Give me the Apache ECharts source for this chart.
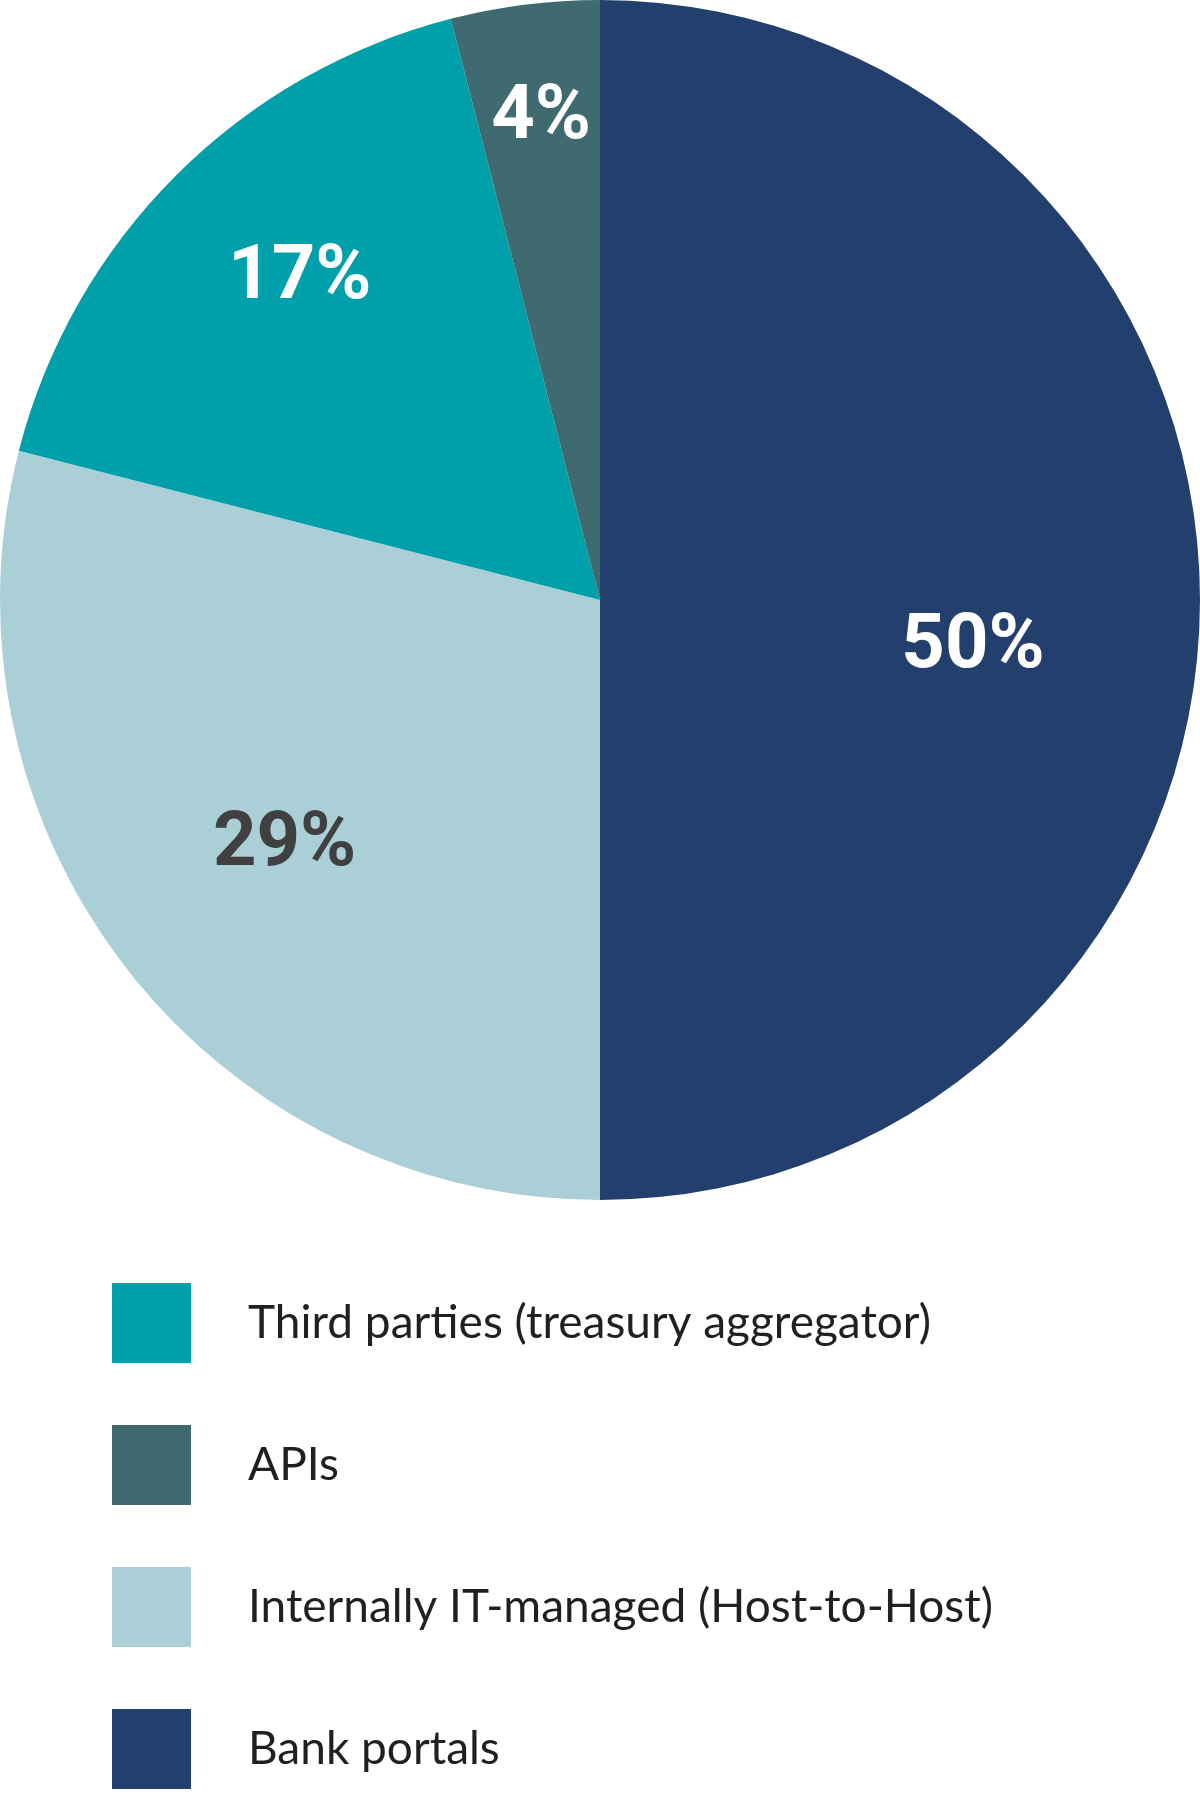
<!DOCTYPE html>
<html>
<head>
<meta charset="utf-8">
<script src="https://cdn.jsdelivr.net/npm/echarts@6/dist/echarts.min.js"></script>
<style>
html,body{margin:0;padding:0;background:#fff;}
#chart{width:1200px;height:1794px;}
</style>
</head>
<body>
<div id="chart"></div>
<script>
const categories = ['Bank portals', 'Internally IT-managed (Host-to-Host)', 'Third parties (treasury aggregator)', 'APIs'];
const values = [50, 29, 17, 4];
const colors = ['#233F6E', '#ABCFD6', '#00A0AA', '#3F6A70'];
const labelColors = ['#ffffff', '#404040', '#ffffff', '#ffffff'];
const labelOffsets = [[70, 48], [-76, 60], [-86, -107], [-21, -180]];
const legendOrder = ['Third parties (treasury aggregator)', 'APIs', 'Internally IT-managed (Host-to-Host)', 'Bank portals'];

const chart = echarts.init(document.getElementById('chart'));
chart.setOption({
  animation: false,
  legend: {
    data: legendOrder,
    orient: 'vertical',
    left: 107,
    top: 1278,
    height: 520,
    itemWidth: 79,
    itemHeight: 80,
    itemGap: 62,
    icon: 'rect',
    selectedMode: false,
    textStyle: {
      fontFamily: 'Lato',
      fontSize: 46,
      color: '#231F20',
      padding: [8, 0, 0, 52]
    }
  },
  series: [{
    type: 'pie',
    center: [600, 600],
    radius: [0, 600],
    startAngle: 90,
    clockwise: true,
    silent: true,
    itemStyle: { borderWidth: 0 },
    label: {
      show: true,
      position: 'inside',
      fontFamily: 'Roboto',
      fontWeight: 'bold',
      fontSize: 76,
      formatter: '{c}%'
    },
    labelLine: { show: false },
    data: categories.map((name, i) => ({
      name: name,
      value: values[i],
      itemStyle: { color: colors[i] },
      label: { color: labelColors[i], offset: labelOffsets[i] }
    }))
  }]
});
</script>
</body>
</html>
